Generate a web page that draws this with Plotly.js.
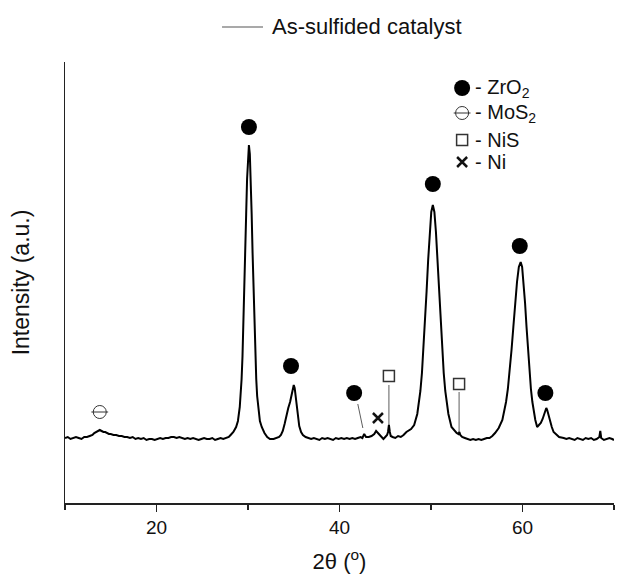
<!DOCTYPE html>
<html>
<head>
<meta charset="utf-8">
<script src="https://cdn.plot.ly/plotly-3.0.1.min.js"></script>
<style>html,body{margin:0;padding:0;background:#fff;}#chart{width:619px;height:578px;}</style>
</head>
<body>
<div id="chart"></div>
<script>
// ---- Data (2θ in degrees, intensity in arbitrary units) ----
const twoTheta = [
 10.0,10.3,10.6,10.9,11.2,11.5,11.8,12.1,12.4,12.7,13.0,13.2,13.4,13.6,13.8,14.0,14.2,14.4,14.6,14.8,
 15.0,15.3,15.6,15.9,16.2,16.5,16.8,17.1,17.4,17.7,18.0,18.3,18.6,18.9,19.2,19.5,19.8,20.1,20.4,20.7,
 21.0,21.3,21.6,21.9,22.2,22.5,22.8,23.1,23.4,23.7,24.0,24.3,24.6,24.9,25.2,25.5,25.8,26.1,26.4,26.7,
 27.0,27.3,27.6,27.9,28.1,28.4,28.7,28.9,29.1,29.2,29.3,29.4,29.5,29.6,29.7,29.8,29.9,30.0,30.1,30.2,
 30.3,30.4,30.5,30.6,30.7,30.8,30.9,31.0,31.1,31.3,31.5,31.8,32.1,32.4,32.8,33.1,33.4,33.6,33.8,34.0,
 34.2,34.4,34.6,34.8,34.9,35.0,35.1,35.2,35.3,35.4,35.6,35.8,36.0,36.3,36.6,36.9,37.2,37.5,37.8,38.1,
 38.4,38.7,39.0,39.3,39.6,39.9,40.2,40.5,40.8,41.1,41.4,41.7,42.0,42.3,42.5,42.7,42.9,43.2,43.5,43.8,
 44.0,44.2,44.4,44.6,44.8,45.0,45.2,45.3,45.4,45.5,45.6,45.8,46.1,46.4,46.7,47.0,47.31,47.82,48.16,48.5,
 48.67,48.84,49.01,49.18,49.35,49.52,49.69,49.86,50.03,50.2,50.37,50.54,50.71,50.88,51.05,51.22,51.39,51.56,51.73,51.9,
 52.24,52.58,52.8,53.0,53.1,53.2,53.4,53.7,54.0,54.3,54.6,54.9,55.2,55.5,55.8,56.1,56.4,56.7,57.0,57.2,
 57.4,57.8,58.0,58.2,58.4,58.6,58.8,59.0,59.2,59.4,59.6,59.8,59.96,60.12,60.28,60.44,60.6,60.76,60.92,61.08,
 61.24,61.4,61.6,61.8,62.0,62.2,62.4,62.5,62.6,62.7,62.8,63.0,63.2,63.4,63.7,64.0,64.5,64.8,65.1,65.4,
 65.7,66.0,66.3,66.6,66.9,67.2,67.5,67.8,68.1,68.4,68.5,68.6,68.9,69.2,69.5,69.8,70.0
];
const intensity = [
 65,66,64,65,66,65,64,66,66,67,68,70,71,72,73,72,71,71,70,69,
 69,68,68,67,67,66,66,65,66,64,65,64,65,63,64,64,63,64,65,64,
 65,65,66,66,65,66,65,64,65,64,65,64,63,64,65,64,64,65,63,64,
 65,64,65,66,68,71,76,82,96,107,124,147,177,212,250,289,324,349,358,349,
 324,289,250,212,177,147,124,107,96,82,76,70,66,64,64,65,66,68,72,79,
 88,95,101,111,116,118,115,107,97,88,77,71,68,66,65,64,65,64,63,65,
 64,65,64,63,65,64,65,64,65,64,65,64,65,66,65,69,66,66,67,69,
 72,70,68,65,64,66,68,71,78,71,67,66,65,67,66,68,71,74,78,89,
 99,112,130,154,182,212,243,271,291,298,291,271,243,212,182,154,130,112,99,89,
 76,72,70,69,71,68,66,65,64,63,64,63,64,63,64,65,65,67,70,72,
 75,83,91,101,114,132,153,176,200,221,236,241,236,221,200,176,153,132,114,101,
 91,83,76,78,80,84,90,93,95,93,89,82,76,71,68,66,65,64,65,64,
 63,65,64,63,65,64,65,63,64,66,72,65,63,64,65,64,63
];

// Phase assignments marked above the peaks
const zrO2X = [30.1, 34.7, 41.6, 50.2, 59.7, 62.5];
const zrO2Y = [376, 137, 110, 319, 257, 110];
const moS2X = [13.8];
const moS2Y = [91];
const niSX  = [45.4, 53.07];
const niSY  = [127, 119];
const niX   = [44.2];
const niY   = [85];
// Leader lines from phase symbols to the peaks
const leaderX = [42.0, 42.55, null, 45.4, 45.4, null, 53.07, 53.07];
const leaderY = [99, 75, null, 118, 78, null, 111, 71];

// Key (symbol legend) entries
const keyLabels = ['- ZrO<sub>2</sub>', '- MoS<sub>2</sub>', '- NiS', '- Ni'];
const keyX = [53.4, 53.4, 53.4, 53.4];
const keyY = [415, 390, 363, 341];

const seriesName = 'As-sulfided catalyst';
const xTickVals = [20, 40, 60];
const xTickText = ['20', '40', '60'];

const FONT = 'Liberation Sans, Arial, sans-serif';
const INK = '#111';

const traces = [
  {x: twoTheta, y: intensity, type: 'scatter', mode: 'lines', name: seriesName,
   line: {color: '#000', width: 2}, showlegend: false, hoverinfo: 'skip'},
  {x: leaderX, y: leaderY, type: 'scatter', mode: 'lines', showlegend: false,
   line: {color: '#333', width: 0.8}, hoverinfo: 'skip'},
  {x: zrO2X, y: zrO2Y, type: 'scatter', mode: 'markers', showlegend: false,
   marker: {symbol: 'circle', size: 16, color: '#000'}, hoverinfo: 'skip'},
  {x: moS2X, y: moS2Y, type: 'scatter', mode: 'markers', showlegend: false,
   marker: {symbol: 'circle-open', size: 13, color: '#333', line: {width: 1, color: '#333'}}, hoverinfo: 'skip'},
  {x: moS2X, y: moS2Y, type: 'scatter', mode: 'markers', showlegend: false,
   marker: {symbol: 'line-ew-open', size: 12, color: '#333', line: {width: 1, color: '#333'}}, hoverinfo: 'skip'},
  {x: niSX, y: niSY, type: 'scatter', mode: 'markers', showlegend: false,
   marker: {symbol: 'square-open', size: 11, color: '#333', line: {width: 1.5, color: '#333'}}, hoverinfo: 'skip'},
  {x: niX, y: niY, type: 'scatter', mode: 'markers', showlegend: false,
   marker: {symbol: 'x-thin-open', size: 10, color: '#111', line: {width: 2.5, color: '#111'}}, hoverinfo: 'skip'},
  // key symbols
  {x: [keyX[0]], y: [keyY[0]], type: 'scatter', mode: 'markers', showlegend: false,
   marker: {symbol: 'circle', size: 16, color: '#000'}, hoverinfo: 'skip'},
  {x: [keyX[1]], y: [keyY[1]], type: 'scatter', mode: 'markers', showlegend: false,
   marker: {symbol: 'circle-open', size: 13, color: '#333', line: {width: 1, color: '#333'}}, hoverinfo: 'skip'},
  {x: [keyX[1]], y: [keyY[1]], type: 'scatter', mode: 'markers', showlegend: false,
   marker: {symbol: 'line-ew-open', size: 12, color: '#333', line: {width: 1, color: '#333'}}, hoverinfo: 'skip'},
  {x: [keyX[2]], y: [keyY[2]], type: 'scatter', mode: 'markers', showlegend: false,
   marker: {symbol: 'square-open', size: 11, color: '#333', line: {width: 1.5, color: '#333'}}, hoverinfo: 'skip'},
  {x: [keyX[3]], y: [keyY[3]], type: 'scatter', mode: 'markers', showlegend: false,
   marker: {symbol: 'x-thin-open', size: 10, color: '#111', line: {width: 2.5, color: '#111'}}, hoverinfo: 'skip'}
];

const annotations = keyLabels.map((t, i) => ({
  x: keyX[i], y: keyY[i], xref: 'x', yref: 'y', text: t, showarrow: false,
  xanchor: 'left', yanchor: 'middle', xshift: 11,
  font: {family: FONT, size: 20, color: INK}
}));
// Series legend (line sample + name) above the plot
annotations.push({
  x: 0.3734, y: 1.0794, xref: 'paper', yref: 'paper', text: seriesName, showarrow: false,
  xanchor: 'left', yanchor: 'middle', font: {family: FONT, size: 22, color: INK}
});

const layout = {
  width: 619, height: 578,
  margin: {l: 65, r: 5, t: 62, b: 75},
  paper_bgcolor: '#fff', plot_bgcolor: '#fff',
  font: {family: FONT, color: INK},
  showlegend: false,
  shapes: [{type: 'line', xref: 'paper', yref: 'paper', x0: 0.286, x1: 0.3607, y0: 1.0794, y1: 1.0794,
            line: {color: '#555', width: 1.2}}],
  xaxis: {
    range: [10, 70], showgrid: false, zeroline: false,
    showline: true, linecolor: '#222', linewidth: 1.5,
    ticks: 'outside', tickvals: xTickVals, ticktext: xTickText, ticklen: 7, tickwidth: 1.5, tickcolor: '#222',
    tickfont: {family: FONT, size: 19, color: INK},
    minor: {tickvals: [10, 30, 50, 70], ticks: 'outside', ticklen: 5, tickwidth: 1.5, tickcolor: '#222'},
    title: {text: '2θ (<sup>o</sup>)', font: {family: FONT, size: 22, color: INK}, standoff: 16}
  },
  yaxis: {
    range: [0, 441], showgrid: false, zeroline: false,
    showline: true, linecolor: '#222', linewidth: 1.5,
    ticks: '', showticklabels: false,
    title: {text: 'Intensity (a.u.)', font: {family: FONT, size: 23, color: INK}, standoff: 27}
  },
  annotations: annotations
};

Plotly.newPlot('chart', traces, layout, {displayModeBar: false, staticPlot: true});
</script>
</body>
</html>
